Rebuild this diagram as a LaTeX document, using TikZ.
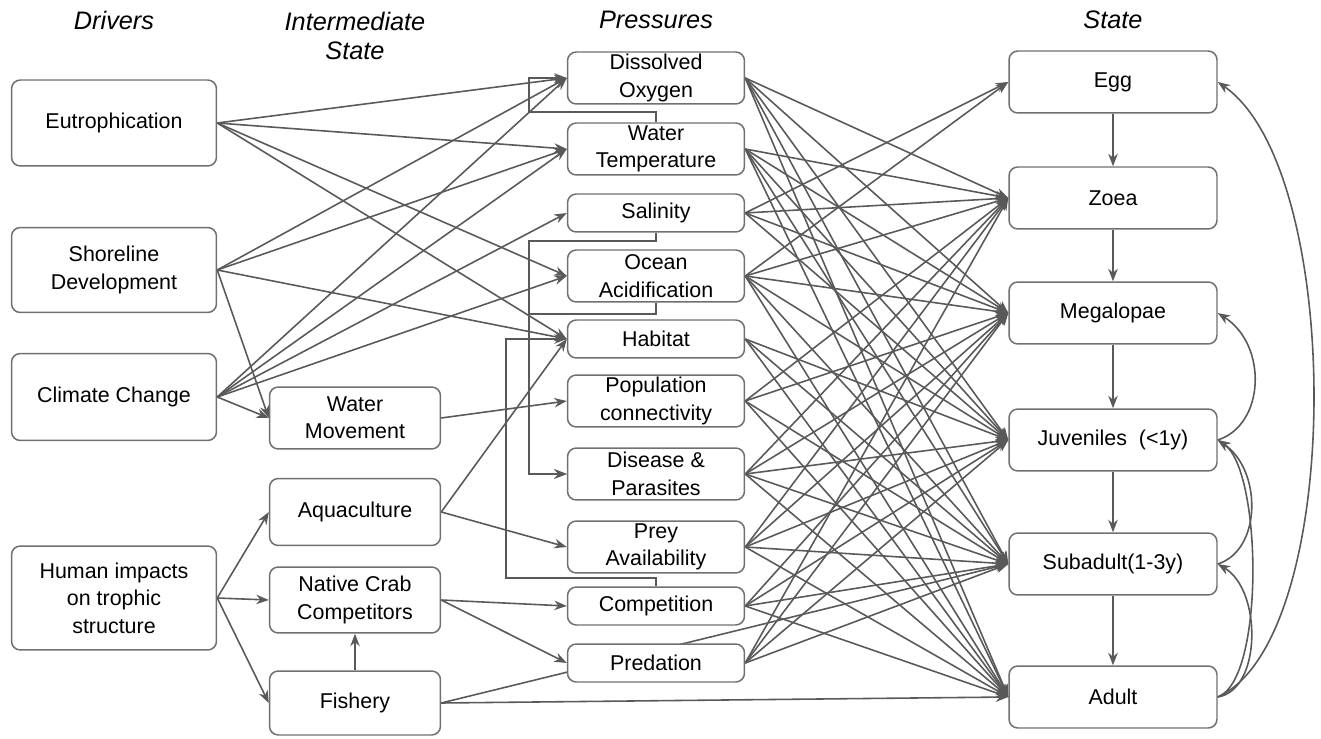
\documentclass[tikz,border=0pt]{standalone}
\usepackage{fontspec}
\setmainfont{Liberation Sans}
\usepackage{tikz}
\usetikzlibrary{positioning, arrows.meta, calc, backgrounds}

\definecolor{edgegray}{HTML}{595959}
\definecolor{boxgray}{HTML}{707070}
\newcommand{\lblfont}{\fontsize{12.2}{15.6}\selectfont}
\newcommand{\hdrfont}{\fontsize{14.4}{17}\selectfont\itshape}

\begin{document}
\begin{tikzpicture}[
    x=0.02cm, y=-0.02cm,
    box/.style={
        rectangle, rounded corners=5pt,
        draw=boxgray, line width=0.85pt,
        fill=white, inner sep=1pt,
        align=center, font=\lblfont
    },
    driver/.style={box, minimum width=4.1cm},
    inter/.style={box, minimum width=3.42cm},
    press/.style={box, minimum width=3.54cm, minimum height=1.04cm},
    pressone/.style={press, minimum height=0.76cm},
    stage/.style={box, minimum width=4.16cm, minimum height=1.24cm},
    head/.style={font=\hdrfont, align=center},
    arrow/.style={-{Stealth[length=2.5mm, width=1.9mm]}, draw=edgegray, line width=0.9pt},
]
\useasboundingbox (0,0) rectangle (1321,739);

% ---------- Column titles ----------
\node[head] (hdrivers) at (114,20) {Drivers};
\node[head] (hinter) at (355,36) {Intermediate\\State};
\node[head] (hpress) at (656,20) {Pressures};
\node[head] (hstate) at (1113,20) {State};

% ---------- Drivers ----------
\node[driver, minimum height=1.72cm] (eutro) at (114,123) {Eutrophication};
\node[driver, minimum height=1.70cm] (shore) at (114,270) {Shoreline\\Development};
\node[driver, minimum height=1.74cm] (climate) at (114,397) {Climate Change};
\node[driver, minimum height=2.08cm] (human) at (114,598) {Human impacts\\on trophic\\structure};

% ---------- Intermediate state ----------
\node[inter, minimum height=1.24cm] (watermov) at (355,418) {Water\\Movement};
\node[inter, minimum height=1.34cm] (aqua) at (355,512) {Aquaculture};
\node[inter, minimum height=1.32cm] (native) at (355,600) {Native Crab\\Competitors};
\node[inter, minimum height=1.28cm] (fishery) at (355,703) {Fishery};

% ---------- Pressures ----------
\node[press] (dox) at (656,78) {Dissolved\\Oxygen};
\node[press] (wtemp) at (656,149) {Water\\Temperature};
\node[pressone] (salin) at (656,213) {Salinity};
\node[press] (acid) at (656,276) {Ocean\\Acidification};
\node[pressone] (habitat) at (656,339) {Habitat};
\node[press] (popconn) at (656,401) {Population\\connectivity};
\node[press] (disease) at (656,474) {Disease \&\\Parasites};
\node[press] (prey) at (656,547) {Prey\\Availability};
\node[pressone] (compet) at (656,606) {Competition};
\node[pressone] (predat) at (656,663) {Predation};

% ---------- State (life stages) ----------
\node[stage] (egg) at (1113,82) {Egg};
\node[stage] (zoea) at (1113,198) {Zoea};
\node[stage] (megal) at (1113,313) {Megalopae};
\node[stage] (juven) at (1113,440) {Juveniles\ \ (<1y)};
\node[stage] (subad) at (1113,564) {Subadult(1-3y)};
\node[stage] (adult) at (1113,697) {Adult};

\begin{pgfonlayer}{background}
% ---------- Drivers -> pressures ----------
\draw[arrow] (eutro.east) -- (dox.west);
\draw[arrow] (eutro.east) -- (wtemp.west);
\draw[arrow] (eutro.east) -- (acid.west);
\draw[arrow] (eutro.east) -- (habitat.west);

\draw[arrow] (shore.east) -- (dox.west);
\draw[arrow] (shore.east) -- (wtemp.west);
\draw[arrow] (shore.east) -- (habitat.west);
\draw[arrow] (shore.east) -- (watermov.west);

\draw[arrow] (climate.east) -- (dox.west);
\draw[arrow] (climate.east) -- (wtemp.west);
\draw[arrow] (climate.east) -- (salin.west);
\draw[arrow] (climate.east) -- (acid.west);
\draw[arrow] (climate.east) -- (watermov.west);

\draw[arrow] (human.east) -- (aqua.west);
\draw[arrow] (human.east) -- (native.west);
\draw[arrow] (human.east) -- (fishery.west);

% ---------- Intermediate -> pressures ----------
\draw[arrow] (watermov.east) -- (popconn.west);
\draw[arrow] (aqua.east) -- (habitat.west);
\draw[arrow] (aqua.east) -- (prey.west);
\draw[arrow] (native.east) -- (compet.west);
\draw[arrow] (native.east) -- (predat.west);
\draw[arrow] (fishery.north) -- (native.south);
\draw[arrow] (fishery.east) -- (subad.west);
\draw[arrow] (fishery.east) -- (adult.west);

% ---------- Pressure -> pressure ----------
\draw[arrow] (wtemp.north) -- ++(0,-10) -| ($(dox.west)+(-38,0)$) -- (dox.west);
\draw[arrow] (salin.south) -- ++(0,8) -| ($(disease.west)+(-38,0)$) -- (disease.west);
\draw[arrow] (acid.south) -- ++(0,11) -| ($(disease.west)+(-38,0)$) -- (disease.west);
\draw[arrow] (compet.north) -- ++(0,-8) -| ($(habitat.west)+(-61,0)$) -- (habitat.west);

% ---------- Pressures -> state ----------
\draw[arrow] (dox.east) -- (zoea.west);
\draw[arrow] (dox.east) -- (megal.west);
\draw[arrow] (dox.east) -- (juven.west);
\draw[arrow] (dox.east) -- (subad.west);
\draw[arrow] (dox.east) -- (adult.west);

\draw[arrow] (wtemp.east) -- (zoea.west);
\draw[arrow] (wtemp.east) -- (megal.west);
\draw[arrow] (wtemp.east) -- (juven.west);
\draw[arrow] (wtemp.east) -- (subad.west);
\draw[arrow] (wtemp.east) -- (adult.west);

\draw[arrow] (salin.east) -- (egg.west);
\draw[arrow] (salin.east) -- (zoea.west);
\draw[arrow] (salin.east) -- (megal.west);
\draw[arrow] (salin.east) -- (juven.west);

\draw[arrow] (acid.east) -- (egg.west);
\draw[arrow] (acid.east) -- (zoea.west);
\draw[arrow] (acid.east) -- (megal.west);
\draw[arrow] (acid.east) -- (juven.west);
\draw[arrow] (acid.east) -- (subad.west);
\draw[arrow] (acid.east) -- (adult.west);

\draw[arrow] (habitat.east) -- (juven.west);
\draw[arrow] (habitat.east) -- (subad.west);
\draw[arrow] (habitat.east) -- (adult.west);

\draw[arrow] (popconn.east) -- (zoea.west);
\draw[arrow] (popconn.east) -- (megal.west);
\draw[arrow] (popconn.east) -- (subad.west);
\draw[arrow] (popconn.east) -- (adult.west);

\draw[arrow] (disease.east) -- (zoea.west);
\draw[arrow] (disease.east) -- (megal.west);
\draw[arrow] (disease.east) -- (juven.west);
\draw[arrow] (disease.east) -- (subad.west);
\draw[arrow] (disease.east) -- (adult.west);

\draw[arrow] (prey.east) -- (zoea.west);
\draw[arrow] (prey.east) -- (megal.west);
\draw[arrow] (prey.east) -- (juven.west);
\draw[arrow] (prey.east) -- (subad.west);
\draw[arrow] (prey.east) -- (adult.west);

\draw[arrow] (compet.east) -- (megal.west);
\draw[arrow] (compet.east) -- (juven.west);
\draw[arrow] (compet.east) -- (subad.west);
\draw[arrow] (compet.east) -- (adult.west);

\draw[arrow] (predat.east) -- (zoea.west);
\draw[arrow] (predat.east) -- (megal.west);
\draw[arrow] (predat.east) -- (juven.west);
\draw[arrow] (predat.east) -- (subad.west);

% ---------- Life cycle ----------
\draw[arrow] (egg) -- (zoea);
\draw[arrow] (zoea) -- (megal);
\draw[arrow] (megal) -- (juven);
\draw[arrow] (juven) -- (subad);
\draw[arrow] (subad) -- (adult);

\draw[arrow] (adult.east) .. controls (1345,640) and (1345,170) .. (egg.east);
\draw[arrow] (juven.east) .. controls (1265,425) and (1268,345) .. (megal.east);
\draw[arrow] (subad.east) .. controls (1262,550) and (1262,470) .. (juven.east);
\draw[arrow] (adult.east) .. controls (1265,680) and (1262,470) .. (juven.east);
\draw[arrow] (adult.east) .. controls (1262,690) and (1262,590) .. (subad.east);
\end{pgfonlayer}

\end{tikzpicture}
\end{document}
